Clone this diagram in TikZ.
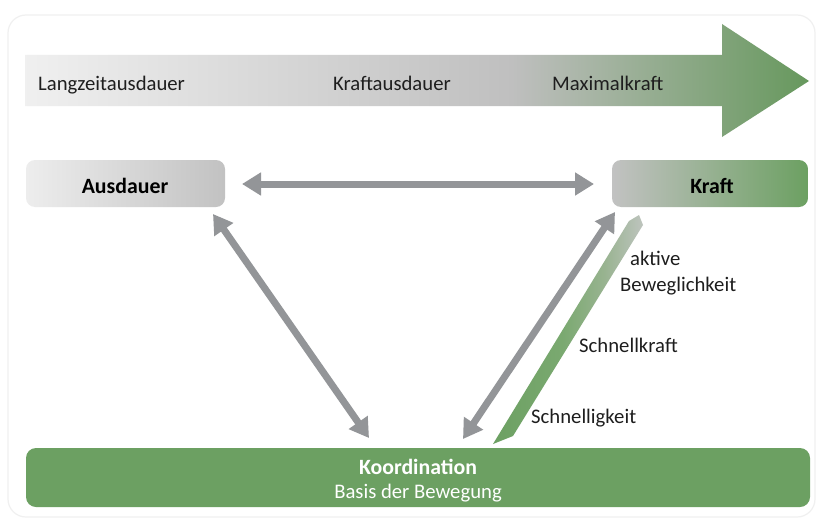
\documentclass[tikz,border=0pt]{standalone}
\usepackage{fontspec}
\setmainfont{Carlito}
\usetikzlibrary{arrows.meta}
\definecolor{arrgray}{HTML}{939598}
\definecolor{kgreen}{HTML}{6CA062}
\definecolor{txt}{HTML}{1E1E1E}
\definecolor{bandA}{HTML}{7AA970}
\definecolor{bandB}{HTML}{98B390}
\definecolor{bandC}{HTML}{BEC4BE}
\pgfdeclarehorizontalshading{bigarrowshade}{100bp}{%
  color(0bp)=(white!94!black); color(25bp)=(white!94!black);
  color(56bp)=(black!25!white); color(75bp)=(kgreen!95!black); color(100bp)=(kgreen!95!black)}
\pgfdeclarehorizontalshading{bandshade}{100bp}{%
  color(0bp)=(kgreen); color(25bp)=(kgreen); color(48bp)=(bandA);
  color(62bp)=(bandB); color(75bp)=(bandC); color(100bp)=(bandC)}
\tikzset{
  lbl/.style={font=\fontsize{20.7}{24}\selectfont, text=txt, inner sep=0pt, anchor=base west},
  boxlbl/.style={font=\fontsize{21.8}{26}\selectfont\bfseries, text=black, inner sep=0pt, anchor=base},
  grayarrow/.style={draw=arrgray, line width=7pt, {Triangle[length=19pt,width=22pt]}-{Triangle[length=19pt,width=22pt]}},
}
\begin{document}
\begin{tikzpicture}[x=1pt,y=-1pt]
\useasboundingbox (0,0) rectangle (816,519);
\fill[white] (0,0) rectangle (816,519);
% panel
\draw[draw=black!6, line width=1.2pt, rounded corners=18pt, fill=white] (8,15) rectangle (815,517);
% big arrow
\path[shading=bigarrowshade]
  (25,55) -- (722,55) -- (722,24) -- (809,81) -- (722,137) -- (722,106) -- (25,106) -- cycle;
\node[lbl] (t1) at (38,90) {Langzeitausdauer};
\node[lbl] (t2) at (333,90) {Kraftausdauer};
\node[lbl] (t3) at (552,90) {Maximalkraft};
% boxes
\path[rounded corners=9pt, left color=white!93!black, right color=black!24!white]
  (26,160) rectangle (225,207);
\node[boxlbl] (aus) at (125,193) {Ausdauer};
\path[rounded corners=9pt, left color=black!24!white, right color=kgreen]
  (612,160) rectangle (808,207);
\node[boxlbl] (kraft) at (712,193) {Kraft};
\path[rounded corners=10pt, fill=kgreen] (26,448) rectangle (810,507);
\node[boxlbl, text=white] (koord) at (418,474) {Koordination};
\node[lbl, anchor=base, text=white] (basis) at (418,498) {Basis der Bewegung};
% arrow end coordinates
\coordinate (hA) at (242,184);
\coordinate (hK) at (594,184);
\coordinate (lA) at (213,214);
\coordinate (lK) at (369,438);
\coordinate (rK) at (615,212);
\coordinate (rA) at (463,439);
\draw[grayarrow] (hA) -- (hK);
\draw[grayarrow] (lA) -- (lK);
\draw[grayarrow] (rK) -- (rA);
% green band
\path[shading=bandshade]
  (493,444) -- (513,436) -- (643,225) -- (639,215) -- (629,221) -- cycle;
% band labels
\node[lbl] (akt) at (630,265) {aktive};
\node[lbl] (bew) at (620,291) {Beweglichkeit};
\node[lbl] (skr) at (579,352) {Schnellkraft};
\node[lbl] (skg) at (531,423) {Schnelligkeit};
\end{tikzpicture}
\end{document}
